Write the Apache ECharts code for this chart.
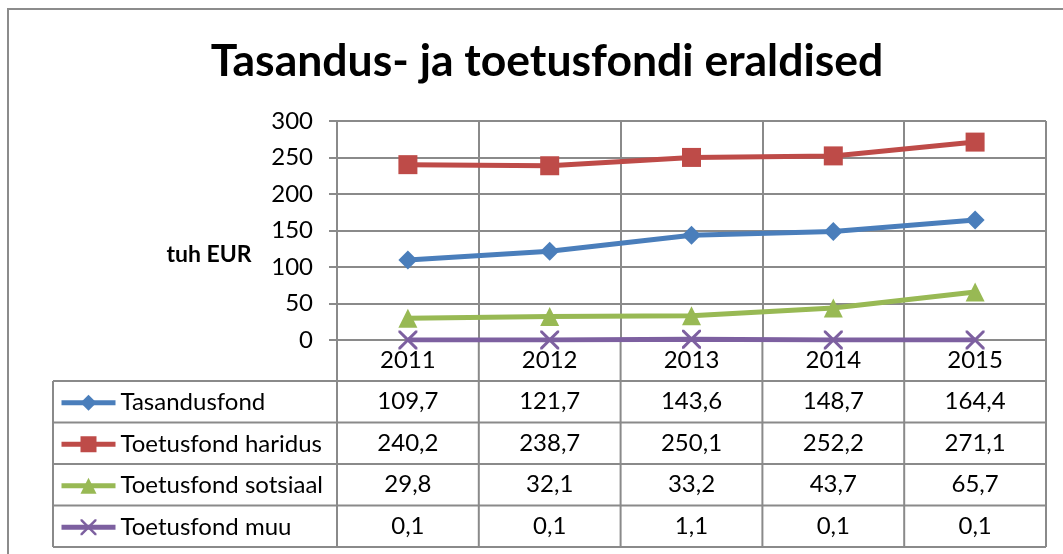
<!DOCTYPE html>
<html>
<head>
<meta charset="utf-8">
<script src="https://cdn.jsdelivr.net/npm/echarts@6/dist/echarts.min.js"></script>
<style>
html,body{margin:0;padding:0;background:#fff;}
#c{width:1063px;height:554px;}
</style>
</head>
<body>
<div id="c"></div>
<script>
const categories = ['2011', '2012', '2013', '2014', '2015'];
const seriesNames = ['Tasandusfond', 'Toetusfond haridus', 'Toetusfond sotsiaal', 'Toetusfond muu'];
const tasandusfond = [109.7, 121.7, 143.6, 148.7, 164.4];
const haridus = [240.2, 238.7, 250.1, 252.2, 271.1];
const sotsiaal = [29.8, 32.1, 33.2, 43.7, 65.7];
const muu = [0.1, 0.1, 1.1, 0.1, 0.1];
const yTicks = [0, 50, 100, 150, 200, 250, 300];

const colors = ['#4A7EBB', '#BE4B48', '#98B954', '#7D60A0'];
const FONT = 'Lato';
const GRID = '#8a8a8a';
const xSymbol = 'path://M0,0 L2.2,0 L10,7.8 L17.8,0 L20,0 L20,2.2 L12.2,10 L20,17.8 L20,20 L17.8,20 L10,12.2 L2.2,20 L0,20 L0,17.8 L7.8,10 L0,2.2 Z';
const symbols = ['diamond', 'rect', 'triangle', xSymbol];
const dataSets = [tasandusfond, haridus, sotsiaal, muu];

const FS = 24;
const headerH = 41;
const rowH = 41.5;
const tableLeft = 53;

const chart = echarts.init(document.getElementById('c'), null, {renderer: 'canvas'});

const series = dataSets.map((d, i) => ({
  name: seriesNames[i],
  type: 'line',
  data: d,
  symbol: symbols[i],
  symbolSize: 19,
  showAllSymbol: true,
  lineStyle: {color: colors[i], width: 5},
  itemStyle: {color: colors[i]},
  emphasis: {disabled: true},
  z: 3 + (3 - i)
}));

const gridTop = 121, gridBottomPx = 340;
const legendH = 20;
const legends = seriesNames.map((n, r) => ({
  orient: 'horizontal', left: 59,
  top: gridBottomPx + headerH + r * rowH + (rowH - legendH) / 2 - 1,
  itemWidth: 54, itemHeight: legendH, itemGap: 0, itemTextGap: 3,
  padding: 0,
  selectedMode: false,
  data: [n],
  lineStyle: {width: 5},
  textStyle: {fontFamily: FONT, fontSize: FS, color: '#000', lineHeight: legendH}
}));

chart.setOption({
  animation: false,
  backgroundColor: '#fff',
  textStyle: {fontFamily: FONT},
  title: {
    text: 'Tasandus- ja toetusfondi eraldised',
    left: 542, top: 34, textAlign: 'center',
    textStyle: {fontFamily: FONT, fontWeight: 'bold', fontSize: 44.5, color: '#000'}
  },
  grid: {left: 337, right: 17, top: gridTop, bottom: 554 - gridBottomPx, containLabel: false},
  legend: legends,
  xAxis: {
    type: 'category', data: categories, boundaryGap: true,
    axisLine: {show: true, lineStyle: {color: GRID, width: 2}},
    axisTick: {show: false},
    splitLine: {show: true, lineStyle: {color: GRID, width: 2}},
    axisLabel: {fontFamily: FONT, fontSize: FS, color: '#000', margin: 8}
  },
  yAxis: {
    type: 'value', min: yTicks[0], max: yTicks[yTicks.length - 1], interval: yTicks[1] - yTicks[0],
    axisLine: {show: true, lineStyle: {color: GRID, width: 2}},
    axisTick: {show: true, length: 8, lineStyle: {color: GRID, width: 2}},
    splitLine: {show: true, lineStyle: {color: GRID, width: 2}},
    axisLabel: {fontFamily: FONT, fontSize: FS, color: '#000', margin: 24}
  },
  series: series
});

function buildTable() {
  const c0 = chart.convertToPixel({xAxisIndex: 0}, categories[0]);
  const c1 = chart.convertToPixel({xAxisIndex: 0}, categories[1]);
  const band = c1 - c0;
  const bounds = [];
  for (let i = 0; i <= categories.length; i++) bounds.push(c0 - band / 2 + i * band);
  const y0 = chart.convertToPixel({yAxisIndex: 0}, 0);
  const rows = dataSets.length;
  const tableBottom = y0 + headerH + rows * rowH;
  const els = [];
  els.push({type: 'rect', shape: {x: 8, y: 9, width: 1200, height: 800}, style: {fill: 'none', stroke: '#8c8c8c', lineWidth: 2}, silent: true, z: 0});
  els.push({type: 'text', x: 209, y: 255, style: {text: 'tuh EUR', fontFamily: FONT, fontWeight: 'bold', fontSize: 23, fill: '#000', align: 'center', verticalAlign: 'middle'}, z: 10});
  for (let r = 0; r <= rows; r++) {
    const y = y0 + headerH + r * rowH;
    els.push({type: 'line', shape: {x1: tableLeft, y1: y, x2: bounds[bounds.length - 1], y2: y}, style: {stroke: GRID, lineWidth: 2}, silent: true, z: 1});
  }
  els.push({type: 'line', shape: {x1: tableLeft, y1: y0 + headerH, x2: tableLeft, y2: tableBottom}, style: {stroke: GRID, lineWidth: 2}, silent: true, z: 1});
  bounds.forEach(x => {
    els.push({type: 'line', shape: {x1: x, y1: y0, x2: x, y2: tableBottom}, style: {stroke: GRID, lineWidth: 2}, silent: true, z: 1});
  });
  dataSets.forEach((d, r) => {
    const cy = y0 + headerH + r * rowH + rowH / 2;
    d.forEach((v, i) => {
      els.push({type: 'text', x: bounds[i] + band / 2, y: cy, style: {text: String(v).replace('.', ','), fontFamily: FONT, fontSize: FS, fill: '#000', align: 'center', verticalAlign: 'middle'}, silent: true, z: 10});
    });
  });
  chart.setOption({graphic: {elements: els}});
}
buildTable();
</script>
</body>
</html>
